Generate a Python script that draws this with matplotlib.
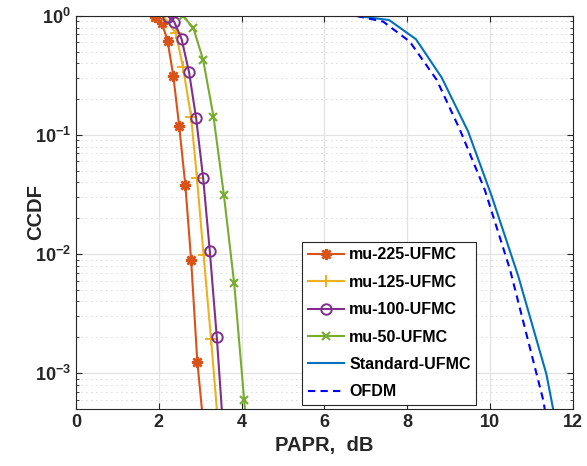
import numpy as np
import matplotlib
matplotlib.use("Agg")
import matplotlib.pyplot as plt
from matplotlib.ticker import LogLocator, NullFormatter, MultipleLocator, NullLocator

plt.rcParams["font.family"] = ["Liberation Sans", "DejaVu Sans"]
plt.rcParams["font.weight"] = "bold"
plt.rcParams["mathtext.fontset"] = "custom"
plt.rcParams["mathtext.rm"] = "Liberation Sans:bold"
plt.rcParams["mathtext.bf"] = "Liberation Sans:bold"
plt.rcParams["mathtext.it"] = "Liberation Sans:bold"

# mu-225-UFMC
papr_225 = [1.91, 2.07, 2.21, 2.35, 2.49, 2.64, 2.78, 2.93, 3.04]
ccdf_225 = [0.99, 0.88, 0.62, 0.314, 0.12, 0.038, 0.0089, 0.00124, 0.0005]

# mu-125-UFMC
papr_125 = [2.11, 2.41, 2.58, 2.78, 2.92, 3.08, 3.26, 3.40]
ccdf_125 = [1.0, 0.716, 0.376, 0.142, 0.0436, 0.0099, 0.00195, 0.0005]

# mu-100-UFMC
papr_100 = [2.23, 2.37, 2.55, 2.73, 2.90, 3.07, 3.23, 3.40, 3.52]
ccdf_100 = [0.99, 0.895, 0.64, 0.337, 0.139, 0.0436, 0.0107, 0.0020, 0.0005]

# mu-50-UFMC
papr_50 = [2.58, 2.83, 3.07, 3.32, 3.57, 3.82, 4.06, 4.08]
ccdf_50 = [1.0, 0.80, 0.428, 0.143, 0.0316, 0.00567, 0.0006, 0.0005]

# Standard-UFMC
papr_std = [6.78, 7.56, 8.21, 8.83, 9.47, 10.04, 10.68, 11.36, 11.52]
ccdf_std = [1.0, 0.925, 0.638, 0.304, 0.107, 0.0306, 0.00653, 0.00098, 0.000505]

# OFDM
papr_ofdm = [6.78, 7.42, 8.06, 8.71, 9.27, 9.87, 10.48, 11.28, 11.32]
ccdf_ofdm = [1.0, 0.896, 0.609, 0.291, 0.111, 0.0348, 0.00743, 0.0006, 0.0005]

fig = plt.figure(figsize=(5.87, 4.66), dpi=100)
ax = fig.add_axes([0.1295, 0.1223, 0.8465, 0.8434])

lw = 1.5


def marks(xs):
    # markers on every sample except the clipped end point
    return list(range(len(xs) - 1))


ax.semilogy(papr_225, ccdf_225, color="#D95319", lw=lw,
            marker=(8, 2, 0), ms=8, mew=1.8, markevery=marks(papr_225),
            label="mu-225-UFMC")
ax.semilogy(papr_125, ccdf_125, color="#EDB120", lw=lw, marker="+", ms=8,
            mew=1.4, markevery=marks(papr_125), label="mu-125-UFMC")
ax.semilogy(papr_100, ccdf_100, color="#7E2F8E", lw=lw, marker="o", ms=7.5,
            mfc="none", mew=1.4, markevery=marks(papr_100),
            label="mu-100-UFMC")
ax.semilogy(papr_50, ccdf_50, color="#77AC30", lw=lw, marker="x", ms=6,
            mew=1.5, markevery=marks(papr_50), label="mu-50-UFMC")
ax.semilogy(papr_std, ccdf_std, color="#0072BD", lw=lw, label="Standard-UFMC")
ax.semilogy(papr_ofdm, ccdf_ofdm, color="#0000FF", lw=lw, ls=(0, (3.5, 2.5)),
            label="OFDM")

ax.set_xlim(0, 12)
ax.set_ylim(5e-4, 1)
ax.xaxis.set_major_locator(MultipleLocator(2))
ax.xaxis.set_minor_locator(NullLocator())
ax.yaxis.set_major_locator(LogLocator(base=10, numticks=10))
ax.yaxis.set_minor_locator(LogLocator(base=10, subs=np.arange(2, 10), numticks=20))
ax.yaxis.set_minor_formatter(NullFormatter())

ax.grid(True, which="major", color="#e3e3e3", lw=0.9, ls="-")
ax.grid(True, which="minor", axis="y", color="#b5b5b5", lw=0.6, ls=(0, (1, 5)))
ax.set_axisbelow(True)

ax.tick_params(which="both", direction="in", top=True, right=True,
               labelsize=13, colors="#262626")
ax.tick_params(which="major", length=4)
ax.tick_params(which="minor", length=2.5)
for s in ax.spines.values():
    s.set_color("#262626")
    s.set_linewidth(0.8)

ax.set_xlabel("PAPR,  dB", fontsize=14.5, fontweight="bold", color="#262626")
ax.set_ylabel("CCDF", fontsize=14.5, fontweight="bold", color="#262626")
ax.yaxis.set_label_coords(-0.062, 0.5)

leg = ax.legend(loc="lower left", bbox_to_anchor=(0.455, 0.01), fontsize=11.5,
                frameon=True, fancybox=False, framealpha=1, edgecolor="#262626",
                handlelength=2.3, borderpad=0.35, labelspacing=0.78,
                handletextpad=0.3, borderaxespad=0)
leg.get_frame().set_linewidth(0.8)

fig.savefig("out.png", dpi=100)
